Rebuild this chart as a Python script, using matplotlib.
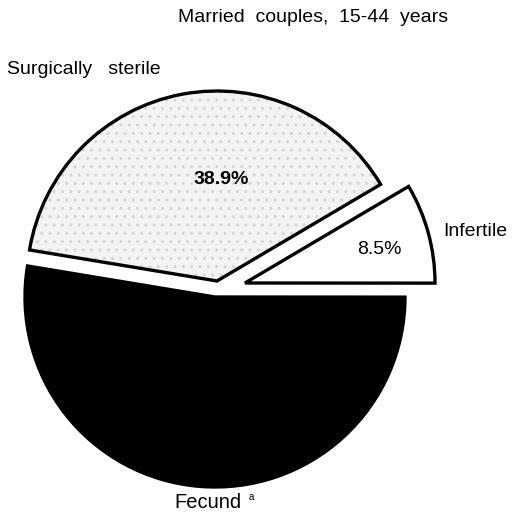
import matplotlib
matplotlib.use("Agg")
import matplotlib.pyplot as plt
from matplotlib.patches import Wedge

plt.rcParams['font.family'] = ['Liberation Sans', 'DejaVu Sans']

categories = ["Fecund", "Infertile", "Surgically sterile"]
values = [52.6, 8.5, 38.9]
pct_labels = ["", "8.5%", "38.9%"]
title = "Married  couples,  15-44  years"

W, H = 518, 513
fig = plt.figure(figsize=(W / 100, H / 100), dpi=100)
ax = fig.add_axes([0, 0, 1, 1])

cx, cy = 215, H - 297
radius = 190
colors = ["black", "white", "#f3f3f3"]

wedges, _ = ax.pie(values, colors=colors, startangle=-189.4,
                   counterclock=True, center=(cx, cy), radius=radius,
                   wedgeprops=dict(edgecolor='black', linewidth=2.4),
                   frame=True)
ax.set_xlim(0, W)
ax.set_ylim(0, H)
ax.set_aspect('equal')
ax.axis('off')

# slice offsets (exploded slices), in pixels
offsets = [(0, 0), (30, 14), (2, 16)]
for w, (dx, dy) in zip(wedges, offsets):
    w.set_center((cx + dx, cy + dy))

# stipple on the sterile wedge
w = wedges[2]
base = Wedge(w.center, w.r, w.theta1, w.theta2, facecolor=colors[2],
             edgecolor='none', zorder=0.5)
ax.add_patch(base)
st = Wedge(w.center, w.r, w.theta1, w.theta2, fill=False, hatch='..',
           edgecolor='#d6d6d6', linewidth=0, zorder=0.6)
ax.add_patch(st)
w.set_facecolor('none')
w.set_zorder(1)

fs = 14
ax.text(313, H - 18, title, ha='center', va='center', fontsize=fs)
ax.text(7, H - 70, "Surgically   sterile", ha='left', va='center', fontsize=fs)
ax.text(443, H - 231, "Infertile", ha='left', va='center', fontsize=fs)
ax.text(208, H - 503, "Fecund", ha='center', va='center', fontsize=fs + 0.5)
ax.text(249, H - 497, "a", ha='left', va='center', fontsize=7)
ax.text(221, H - 179, pct_labels[2], ha='center', va='center', fontsize=fs,
        fontweight='bold')
ax.text(379, H - 250, pct_labels[1], ha='center', va='center', fontsize=fs)

fig.savefig("out.png", dpi=100)
